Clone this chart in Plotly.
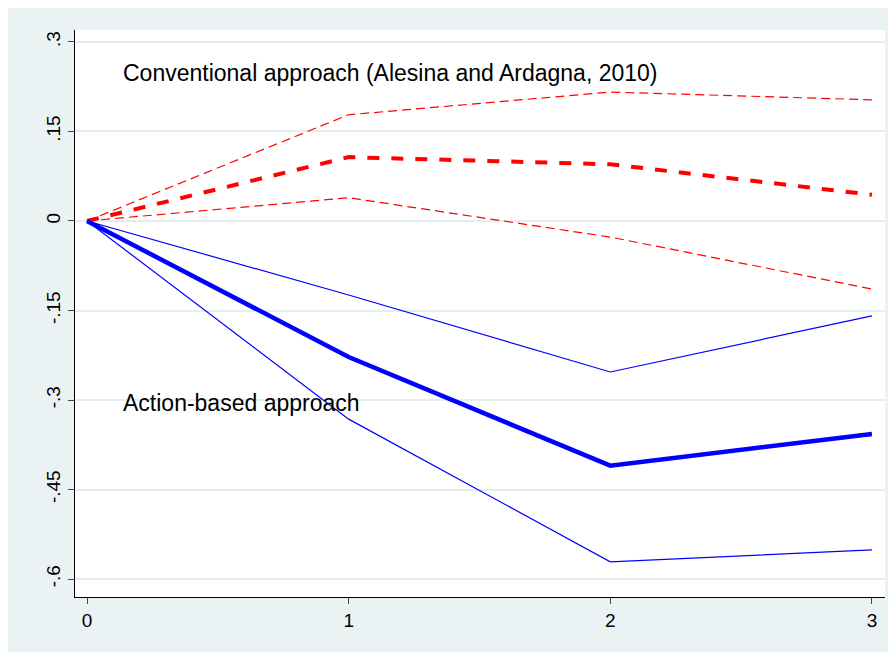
import plotly.graph_objects as go

x = [0, 1, 2, 3]
conv = [0, 0.107, 0.095, 0.044]
conv_hi = [0, 0.178, 0.216, 0.203]
conv_lo = [0, 0.039, -0.027, -0.114]
act = [0, -0.228, -0.41, -0.357]
act_hi = [0, -0.124, -0.253, -0.159]
act_lo = [0, -0.332, -0.571, -0.551]
yticks = [0.3, 0.15, 0, -0.15, -0.3, -0.45, -0.6]
ylabels = [".3", ".15", "0", "-.15", "-.3", "-.45", "-.6"]

fig = go.Figure()
red = "#FF0000"
blue = "#0000FF"
for ys in [conv_hi, conv_lo]:
    fig.add_trace(go.Scatter(x=x, y=ys, mode="lines", line=dict(color=red, width=1.2, dash="9px,5px")))
fig.add_trace(go.Scatter(x=x, y=conv, mode="lines", line=dict(color=red, width=4, dash="dash")))
for ys in [act_hi, act_lo]:
    fig.add_trace(go.Scatter(x=x, y=ys, mode="lines", line=dict(color=blue, width=1.2)))
fig.add_trace(go.Scatter(x=x, y=act, mode="lines", line=dict(color=blue, width=4.5)))

fig.add_hline(y=0, line=dict(color="#999999", width=1.2), layer="below")
fig.add_annotation(x=0.13, y=0.248, text="Conventional approach (Alesina and Ardagna, 2010)",
                   showarrow=False, xanchor="left", yanchor="middle", font=dict(size=23, color="black"))
fig.add_annotation(x=0.13, y=-0.305, text="Action-based approach",
                   showarrow=False, xanchor="left", yanchor="middle", font=dict(size=23, color="black"))

fig.update_layout(
    width=880, height=644, showlegend=False,
    paper_bgcolor="#EAF2F3", plot_bgcolor="white",
    margin=dict(l=67, r=3, t=22, b=55),
    font=dict(family="Liberation Sans, Arial", size=19, color="black"),
)
fig.update_xaxes(range=[-0.046, 3.05], tickvals=x, ticks="outside", ticklen=6,
                 showline=True, linecolor="black", showgrid=False, zeroline=False)
fig.update_yaxes(range=[-0.63, 0.32], tickvals=yticks, ticktext=ylabels, tickangle=-90,
                 ticks="outside", ticklen=6, showline=True, linecolor="black",
                 gridcolor="#E3EEF0", gridwidth=1.5, zeroline=False)
fig.write_html("out.html")
